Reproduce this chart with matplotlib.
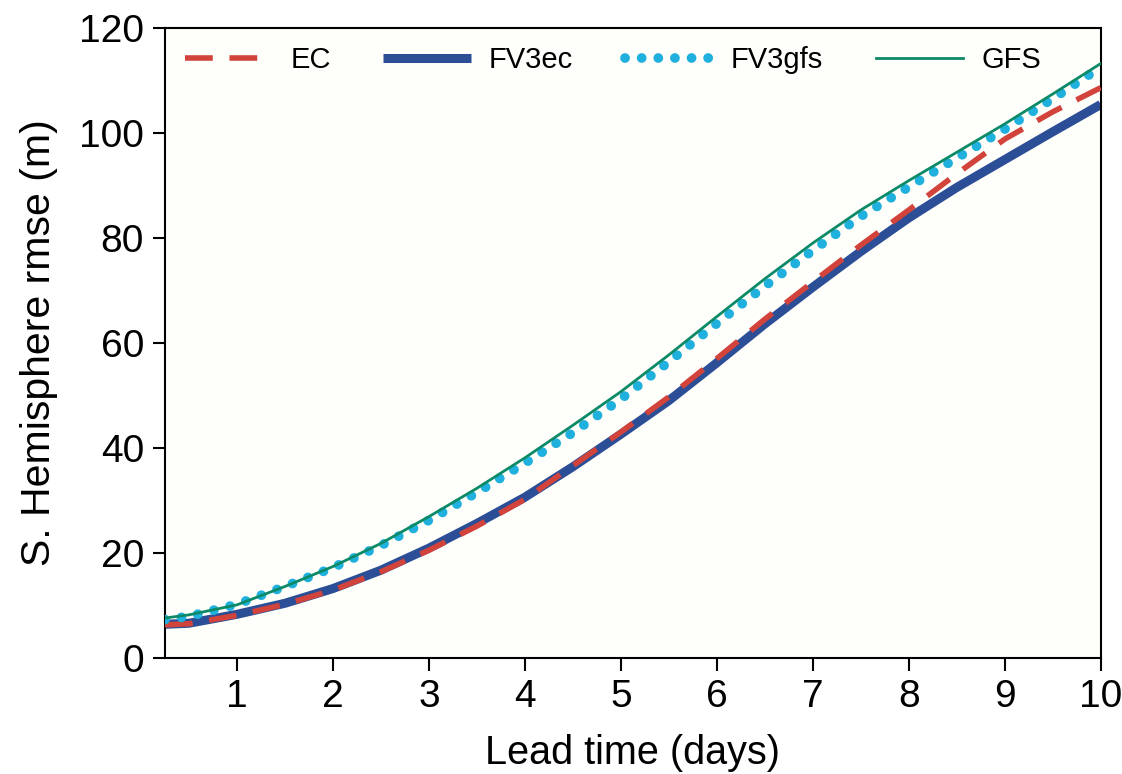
import matplotlib
matplotlib.use("Agg")
import matplotlib.pyplot as plt

# lead time (days) and southern hemisphere rmse (m)
lead_days = [0.25, 0.5, 1, 1.5, 2, 2.5, 3, 3.5, 4, 4.5, 5, 5.5, 6, 6.5, 7, 7.5, 8, 8.5, 9, 9.5, 10]
ec = [6.3, 6.5, 8.1, 10.2, 12.9, 16.4, 20.5, 25.1, 30.2, 36.6, 43.0, 49.7, 57.0, 64.5, 71.6, 78.6, 85.3, 92.2, 98.8, 104.0, 108.6]
fv3ec = [6.4, 6.6, 8.3, 10.4, 13.2, 16.7, 20.9, 25.6, 30.6, 36.4, 42.6, 49.0, 56.2, 63.6, 70.6, 77.4, 83.8, 89.6, 94.9, 100.2, 105.4]
fv3gfs = [7.3, 7.9, 10.2, 13.6, 17.2, 21.4, 26.2, 31.5, 37.1, 42.9, 49.3, 56.4, 63.7, 70.8, 77.6, 84.1, 89.7, 95.2, 100.7, 106.5, 112.5]
gfs = [7.6, 8.2, 10.1, 13.6, 17.4, 21.8, 26.9, 32.3, 38.1, 44.3, 50.7, 57.7, 65.0, 72.2, 79.0, 85.3, 90.9, 96.3, 101.7, 107.4, 113.2]

x_ticks = list(range(1, 11))
y_ticks = list(range(0, 121, 20))

plt.rcParams["font.family"] = ["Liberation Sans", "DejaVu Sans"]

fig = plt.figure(figsize=(11.22, 7.74), dpi=100)
ax = fig.add_axes([0.147, 0.150, 0.834, 0.814])
ax.set_facecolor("#fefefa")

ax.plot(lead_days, fv3ec, color="#2b4e96", lw=6.5, solid_capstyle="butt", label="FV3ec", zorder=2)
ax.plot(lead_days, ec, color="#d1433b", lw=4, linestyle=(0, (5, 3)), dash_capstyle="butt", label="EC", zorder=3)
ax.plot(lead_days, fv3gfs, color="#1fb0de", lw=7, linestyle=(0, (0.01, 1.7)), dash_capstyle="round", label="FV3gfs", zorder=3)
ax.plot(lead_days, gfs, color="#0c8a68", lw=2, label="GFS", zorder=4)

ax.set_xlim(0.25, 10)
ax.set_ylim(0, 120)
ax.set_xticks(x_ticks)
ax.set_yticks(y_ticks)
ax.tick_params(direction="out", length=9, width=1.5, labelsize=28, pad=6)
for side in ax.spines.values():
    side.set_linewidth(1.5)

ax.set_xlabel("Lead time (days)", fontsize=28.5, labelpad=14)
ax.set_ylabel("S. Hemisphere rmse (m)", fontsize=29.5, labelpad=15)

handles, labels = ax.get_legend_handles_labels()
order = [1, 0, 2, 3]
ax.legend([handles[i] for i in order], [labels[i] for i in order],
          loc="upper left", ncol=4, frameon=False, fontsize=21,
          handlelength=3.0, handletextpad=0.62, columnspacing=1.8,
          bbox_to_anchor=(0.0085, 0.99), borderaxespad=0)

fig.savefig("out.png", dpi=100)
